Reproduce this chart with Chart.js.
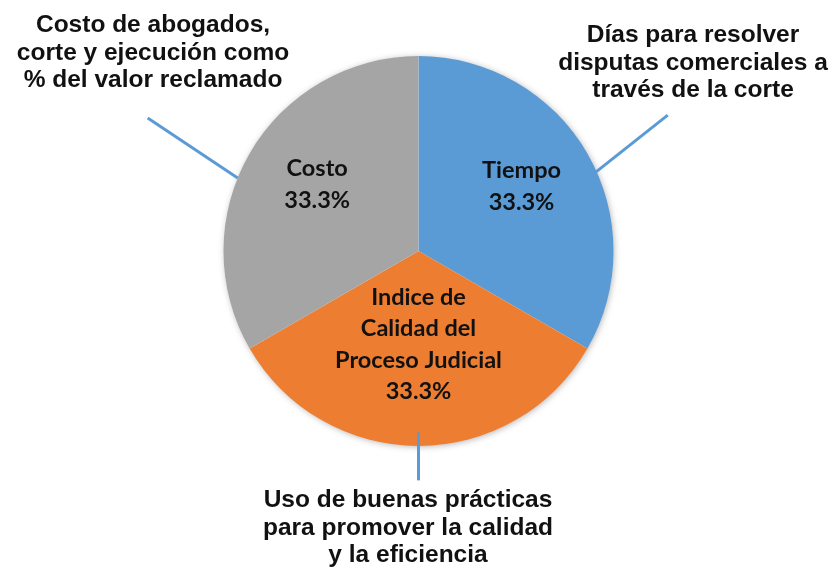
<!DOCTYPE html>
<html>
<head>
<meta charset="utf-8">
<script src="https://cdn.jsdelivr.net/npm/chart.js@4.4.1/dist/chart.umd.min.js"></script>
<style>
  body { margin: 0; background: #fff; }
  #wrap { width: 837px; height: 570px; }
</style>
</head>
<body>
<div id="wrap"><canvas id="pie"></canvas></div>
<script>
// datos del gráfico
const categorias = ['Tiempo', 'Indice de Calidad del Proceso Judicial', 'Costo'];
const etiquetas = [['Tiempo'], ['Indice de', 'Calidad del', 'Proceso Judicial'], ['Costo']];
const valores = [1, 1, 1];
const notas = [
  ['Días para resolver', 'disputas comerciales a', 'través de la corte'],
  ['Uso de buenas prácticas', 'para promover la calidad', 'y la eficiencia'],
  ['Costo de abogados,', 'corte y ejecución como', '% del valor reclamado']
];
const colores = ['#5B9BD5', '#ED7D31', '#A5A5A5'];

// dónde va cada texto (factor del radio para la etiqueta interna, línea y nota externa)
const posEtiqueta = [0.61, 0.48, 0.6];
const subirEtiqueta = [5, 0, 8];
const lineas = [
  { ang: -24, r: 0.995, dx: 72, dy: -57, tx: 693, ty: 35 },
  { ang: 90, r: 0.93, dx: 0, dy: 48, tx: 408, ty: 500 },
  { ang: 202, r: 1.0, dx: -90, dy: -60, tx: 153, ty: 25 }
];

const sombra = {
  id: 'sombra',
  beforeDatasetsDraw(chart) {
    const arc = chart.getDatasetMeta(0).data[0];
    const ctx = chart.ctx;
    ctx.save();
    ctx.shadowColor = 'rgba(0,0,0,0.35)';
    ctx.shadowBlur = 7;
    ctx.shadowOffsetX = 1;
    ctx.shadowOffsetY = 1;
    ctx.fillStyle = '#fff';
    ctx.beginPath();
    ctx.arc(arc.x, arc.y, arc.outerRadius - 1, 0, Math.PI * 2);
    ctx.fill();
    ctx.restore();
  }
};

const textos = {
  id: 'textos',
  afterDatasetsDraw(chart) {
    const ctx = chart.ctx;
    const meta = chart.getDatasetMeta(0);
    const total = valores.reduce((a, b) => a + b, 0);
    ctx.save();
    meta.data.forEach((arc, i) => {
      const R = arc.outerRadius;
      // etiqueta interna
      const mid = (arc.startAngle + arc.endAngle) / 2;
      const cx = arc.x + Math.cos(mid) * R * posEtiqueta[i];
      const cy = arc.y + Math.sin(mid) * R * posEtiqueta[i] - subirEtiqueta[i];
      const lineasTxt = etiquetas[i].concat([(valores[i] / total * 100).toFixed(1) + '%']);
      ctx.fillStyle = '#111';
      ctx.font = 'bold 23.5px Lato';
      ctx.textAlign = 'center';
      ctx.textBaseline = 'middle';
      const lh = 31.5;
      const y0 = cy - (lineasTxt.length - 1) * lh / 2;
      lineasTxt.forEach((t, k) => ctx.fillText(t, cx, y0 + k * lh));

      // línea guía
      const l = lineas[i];
      const a = l.ang * Math.PI / 180;
      const sx = arc.x + Math.cos(a) * R * l.r;
      const sy = arc.y + Math.sin(a) * R * l.r;
      ctx.strokeStyle = '#5B9BD5';
      ctx.lineWidth = 3;
      ctx.beginPath();
      ctx.moveTo(sx, sy);
      ctx.lineTo(sx + l.dx, sy + l.dy);
      ctx.stroke();

      // nota externa
      ctx.fillStyle = '#111';
      ctx.font = 'bold 24.5px "Liberation Sans", Arial, sans-serif';
      notas[i].forEach((t, k) => ctx.fillText(t, l.tx, l.ty + k * 27.8));
    });
    ctx.restore();
  }
};

new Chart(document.getElementById('pie'), {
  type: 'pie',
  data: {
    labels: categorias,
    datasets: [{
      data: valores,
      backgroundColor: colores,
      borderWidth: 0
    }]
  },
  options: {
    responsive: true,
    maintainAspectRatio: false,
    animation: false,
    layout: { padding: { top: 56, bottom: 124, left: 0, right: 0 } },
    plugins: {
      legend: { display: false },
      tooltip: { enabled: false }
    }
  },
  plugins: [sombra, textos]
});
</script>
</body>
</html>
